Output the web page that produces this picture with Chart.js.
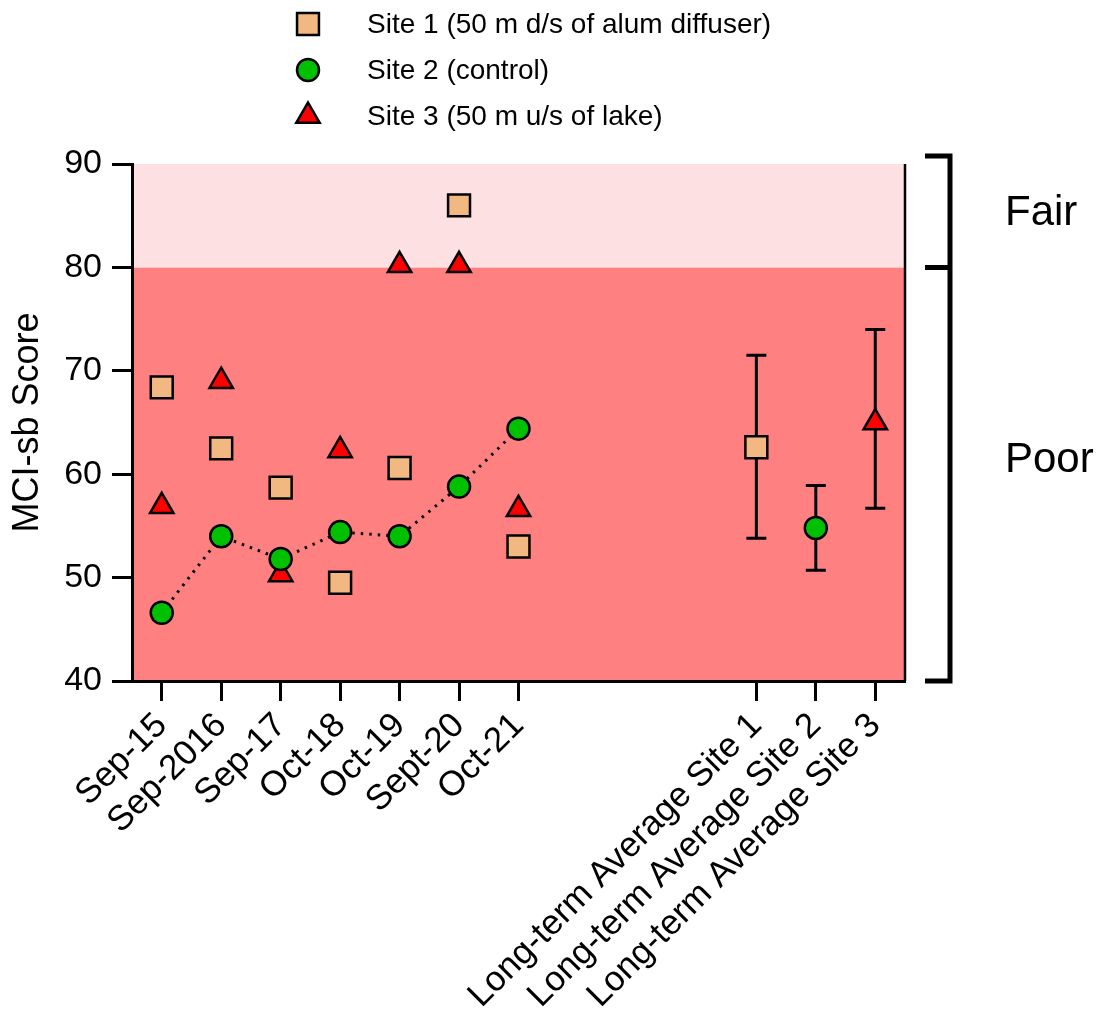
<!DOCTYPE html>
<html>
<head>
<meta charset="utf-8">
<title>MCI-sb Score</title>
<script src="https://cdn.jsdelivr.net/npm/chart.js@4.4.1/dist/chart.umd.min.js"></script>
<style>
  body { margin: 0; background: #fff; }
  canvas { display: block; }
</style>
</head>
<body>
<canvas id="mciChart" width="1104" height="1023"></canvas>
<script>
// categories: survey dates, an empty gap, then the long-term averages
const surveyLabels = ['Sep-15', 'Sep-2016', 'Sep-17', 'Oct-18', 'Oct-19', 'Sept-20', 'Oct-21'];
const averageLabels = ['Long-term Average Site 1', 'Long-term Average Site 2', 'Long-term Average Site 3'];
const gapSlots = 3;

// MCI-sb scores per survey
const site1Scores = [68.4, 62.5, 58.7, 49.5, 60.6, 86.0, 53.0];
const site2Scores = [46.6, 54.0, 51.8, 54.4, 54.0, 58.8, 64.4];
const site3Scores = [56.9, 69.0, 50.3, 62.3, 80.2, 80.2, 56.6];

// long-term averages with their error bar ends (site 1, 2, 3)
const averageMean = [62.6, 54.8, 65.0];
const averageLow = [53.8, 50.7, 56.7];
const averageHigh = [71.5, 58.9, 74.0];

const yTicks = [40, 50, 60, 70, 80, 90];
const bandEdges = [40, 80, 90];
const bandNames = ['Poor', 'Fair'];
const bandFills = ['#FF8080', '#FDE0E1'];

const allLabels = [...surveyLabels, ...Array(gapSlots).fill(''), ...averageLabels];
const FONT = 'Arial, "Liberation Sans", sans-serif';

// survey values, nulls for the gap, then only this site's average
function siteSeries(scores, siteIndex) {
    const out = scores.slice();
    for (let i = 0; i < gapSlots; i++) out.push(null);
    averageMean.forEach((m, k) => out.push(k === siteIndex ? m : null));
    return out;
}

Chart.defaults.font.family = FONT;
Chart.defaults.color = '#000';

const backdrop = {
    id: 'backdrop',
    beforeDraw(chart) {
        const { ctx, chartArea: a, scales: { y } } = chart;
        ctx.save();
        for (let i = 0; i < bandNames.length; i++) {
            const top = y.getPixelForValue(bandEdges[i + 1]);
            const bottom = y.getPixelForValue(bandEdges[i]);
            ctx.fillStyle = bandFills[i];
            ctx.fillRect(a.left, top, a.right - a.left, bottom - top);
        }
        ctx.restore();
    }
};

const errorBars = {
    id: 'errorBars',
    beforeDatasetsDraw(chart) {
        const { ctx, scales: { x, y } } = chart;
        ctx.save();
        ctx.strokeStyle = '#000';
        ctx.lineWidth = 3;
        averageMean.forEach((m, k) => {
            const px = x.getPixelForValue(surveyLabels.length + gapSlots + k);
            const lo = y.getPixelForValue(averageLow[k]);
            const hi = y.getPixelForValue(averageHigh[k]);
            ctx.beginPath();
            ctx.moveTo(px, hi); ctx.lineTo(px, lo);
            ctx.moveTo(px - 10, hi); ctx.lineTo(px + 10, hi);
            ctx.moveTo(px - 10, lo); ctx.lineTo(px + 10, lo);
            ctx.stroke();
        });
        ctx.restore();
    }
};

const overlay = {
    id: 'overlay',
    afterDraw(chart) {
        const { ctx, chartArea: a, scales: { y } } = chart;
        ctx.save();

        // right frame line of the plot
        ctx.strokeStyle = '#000';
        ctx.lineWidth = 2.5;
        ctx.beginPath();
        ctx.moveTo(a.right, a.top);
        ctx.lineTo(a.right, a.bottom);
        ctx.stroke();

        // bracket for the quality classes
        const top = y.getPixelForValue(bandEdges[2]) - 8;
        const mid = y.getPixelForValue(bandEdges[1]);
        const bottom = y.getPixelForValue(bandEdges[0]);
        const bx = a.right + 45;
        ctx.lineWidth = 5;
        ctx.lineJoin = 'miter';
        ctx.beginPath();
        ctx.moveTo(a.right + 20, top);
        ctx.lineTo(bx, top);
        ctx.lineTo(bx, bottom);
        ctx.lineTo(a.right + 20, bottom);
        ctx.moveTo(a.right + 20, mid);
        ctx.lineTo(bx, mid);
        ctx.stroke();

        ctx.fillStyle = '#000';
        ctx.font = '42px ' + FONT;
        ctx.textAlign = 'left';
        ctx.textBaseline = 'middle';
        ctx.fillText(bandNames[1], a.right + 100, y.getPixelForValue(85.2));
        ctx.fillText(bandNames[0], a.right + 100, y.getPixelForValue(61.3));

        // legend, one item per row
        ctx.font = '28px ' + FONT;
        chart.data.datasets.forEach((ds, i) => {
            const ly = 24 + i * 46;
            ctx.fillStyle = ds.pointBackgroundColor || ds.backgroundColor;
            ctx.strokeStyle = '#000';
            ctx.lineWidth = 2.5;
            Chart.helpers.drawPoint(ctx, {
                pointStyle: ds.pointStyle, radius: ds.pointRadius, rotation: 0, borderWidth: 2.5
            }, 308, ly);
            ctx.fillStyle = '#000';
            ctx.fillText(ds.label, 367, ly + 1);
        });
        ctx.restore();
    }
};

new Chart(document.getElementById('mciChart'), {
    type: 'line',
    data: {
        labels: allLabels,
        datasets: [
            {
                label: 'Site 1 (50 m d/s of alum diffuser)',
                data: siteSeries(site1Scores, 0),
                showLine: false,
                pointStyle: 'rect',
                pointRadius: 15.5,
                backgroundColor: '#F1B981',
                borderColor: '#000',
                pointBorderWidth: 2.5,
                order: 2
            },
            {
                label: 'Site 2 (control)',
                data: siteSeries(site2Scores, 1),
                showLine: true,
                borderColor: '#000',
                borderWidth: 3,
                borderDash: [2.5, 6],
                pointStyle: 'circle',
                pointRadius: 11,
                backgroundColor: '#00C000',
                pointBackgroundColor: '#00C000',
                pointBorderColor: '#000',
                pointBorderWidth: 2.5,
                order: 0
            },
            {
                label: 'Site 3 (50 m u/s of lake)',
                data: siteSeries(site3Scores, 2),
                showLine: false,
                pointStyle: 'triangle',
                pointRadius: 13.5,
                backgroundColor: '#FF0000',
                borderColor: '#000',
                pointBorderWidth: 2.5,
                order: 1
            }
        ]
    },
    options: {
        responsive: false,
        animation: false,
        events: [],
        layout: { padding: { top: 164, right: 199, left: 0, bottom: 0 } },
        plugins: {
            legend: { display: false },
            tooltip: { enabled: false }
        },
        scales: {
            x: {
                offset: true,
                grid: {
                    drawOnChartArea: false,
                    tickLength: 20,
                    tickWidth: 3,
                    tickColor: (c) => allLabels[c.index] ? '#000' : 'rgba(0,0,0,0)'
                },
                border: { display: true, color: '#000', width: 3 },
                ticks: {
                    autoSkip: false,
                    minRotation: 45,
                    maxRotation: 45,
                    padding: 4,
                    font: { size: 35 },
                    color: '#000'
                },
                afterFit: (s) => { s.height = 342; }
            },
            y: {
                min: 40,
                max: 90,
                afterBuildTicks: (s) => { s.ticks = yTicks.map(v => ({ value: v })); },
                grid: {
                    drawOnChartArea: false,
                    tickLength: 20,
                    tickWidth: 3,
                    tickColor: '#000'
                },
                border: { display: true, color: '#000', width: 3 },
                ticks: { padding: 10, font: { size: 34 }, color: '#000' },
                title: {
                    display: true,
                    text: 'MCI-sb Score',
                    font: { size: 36 },
                    color: '#000',
                    padding: { top: 6, bottom: 0 }
                },
                afterFit: (s) => { s.width = 132; }
            }
        }
    },
    plugins: [backdrop, errorBars, overlay]
});
</script>
</body>
</html>
